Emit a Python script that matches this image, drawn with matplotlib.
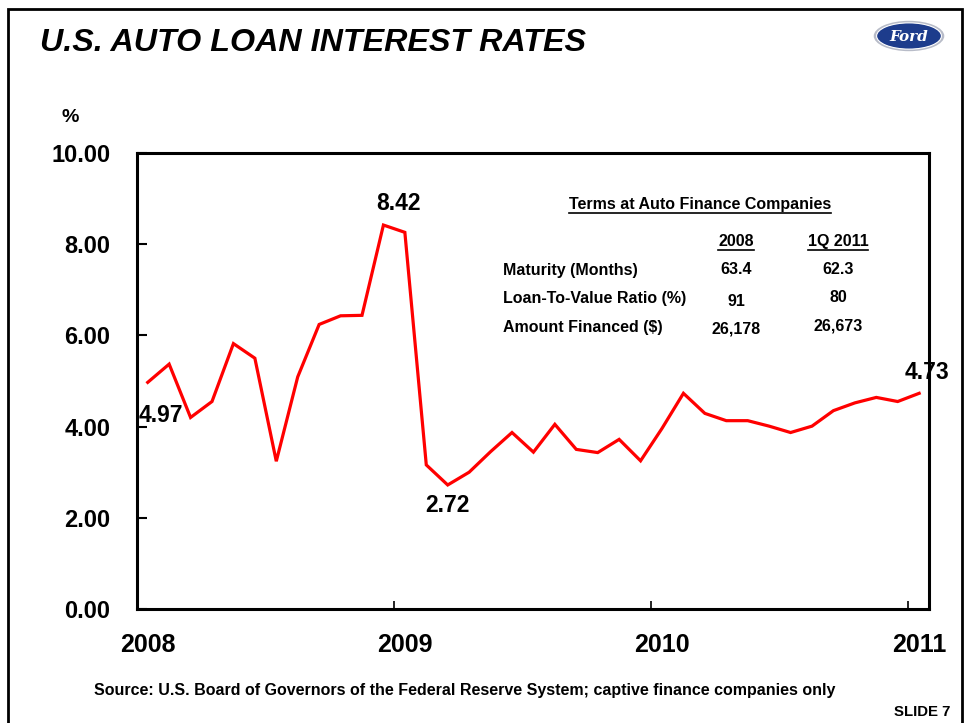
import matplotlib
matplotlib.use("Agg")
import matplotlib.pyplot as plt
from matplotlib.patches import Rectangle, Ellipse
from matplotlib.lines import Line2D
import pandas as pd

plt.rcParams['font.family'] = ['Liberation Sans', 'DejaVu Sans']

# ---------------- data ----------------
months = pd.period_range('2008-01', periods=37, freq='M')
rates = [4.97, 5.37, 4.20, 4.55, 5.82, 5.50, 3.24, 5.09, 6.24, 6.43, 6.44, 8.42,
         8.26, 3.16, 2.72, 3.00, 3.45, 3.87, 3.44, 4.05, 3.50, 3.43, 3.72, 3.25,
         3.96, 4.73, 4.29, 4.13, 4.13, 4.01, 3.87, 4.01, 4.35, 4.52, 4.64, 4.55,
         4.73]
year_ticks = [2008, 2009, 2010, 2011]
year_labels = ['2008', '2009', '2010', '2011']
y_ticks = [0, 2, 4, 6, 8, 10]
callouts = [('4.97', 0), ('8.42', 11), ('2.72', 14), ('4.73', 36)]

table_title = 'Terms at Auto Finance Companies'
table_cols = ['2008', '1Q 2011']
table_rows = ['Maturity (Months)', 'Loan-To-Value Ratio (%)', 'Amount Financed ($)']
table_2008 = ['63.4', '91', '26,178']
table_2011 = ['62.3', '80', '26,673']

# fractional-year position of each month (centre of month)
xpos = [m.year + (m.month - 0.5) / 12 for m in months]

W, H = 968, 723
fig = plt.figure(figsize=(W / 100, H / 100), dpi=100)
fig.patch.set_facecolor('white')

def fx(px):
    return px / W

def fy(py):
    return 1 - py / H

# slide border
fig.patches.append(Rectangle((fx(7.5), -0.1), fx(962) - fx(7.5), fy(9) + 0.1,
                             transform=fig.transFigure, fill=False,
                             edgecolor='black', linewidth=2.0, zorder=0))

# title
fig.text(fx(40), fy(43), 'U.S. AUTO LOAN INTEREST RATES', fontsize=23.2,
         fontweight='bold', fontstyle='italic', ha='left', va='center')

# Ford logo
lax = fig.add_axes([fx(873), fy(52), fx(72), 32 / H])
lax.set_xlim(0, 1); lax.set_ylim(0, 1); lax.axis('off')
lax.add_patch(Ellipse((0.5, 0.5), 0.98, 0.95, facecolor='#b8bcc8', edgecolor='none'))
lax.add_patch(Ellipse((0.5, 0.5), 0.90, 0.82, facecolor='#1d3c8c', edgecolor='white', linewidth=0.8))
lax.text(0.5, 0.48, 'Ford', color='white', fontsize=11, fontstyle='italic',
         fontweight='bold', family='DejaVu Serif', ha='center', va='center')

# main axes
ax = fig.add_axes([fx(137), fy(609), fx(929) - fx(137), (609 - 153) / H])
ax.plot(xpos, rates, color='#ff0000', linewidth=2.3, solid_joinstyle='miter', zorder=3)
ax.set_xlim(2008, 2011.08)
ax.set_ylim(0, 10)

for s in ax.spines.values():
    s.set_linewidth(2.2)

ax.set_yticks(y_ticks, labels=['%.2f' % v for v in y_ticks])
ax.tick_params(axis='y', direction='in', length=7, width=1.5, pad=19,
               labelsize=17)
ax.set_xticks(year_ticks, labels=[])
ax.set_xticks([y + 0.5 / 12 for y in year_ticks], labels=year_labels, minor=True)
ax.tick_params(axis='x', which='major', direction='in', length=6, width=1.2)
ax.tick_params(axis='x', which='minor', length=0, pad=17, labelsize=18)
for lbl in ax.get_yticklabels() + ax.get_xticklabels(minor=True):
    lbl.set_fontweight('bold')

# callouts
offsets = {'4.97': (0.04, -0.72, 'left'), '8.42': (0.06, 0.48, 'center'),
           '2.72': (-0.0, -0.44, 'center'), '4.73': (0.03, 0.45, 'center')}
for txt, i in callouts:
    dx, dy, ha = offsets[txt]
    x = xpos[i] + dx if ha == 'center' else 2008.005
    ax.text(x, rates[i] + dy, txt, fontsize=16.5, fontweight='bold',
            ha=ha, va='center', zorder=4)

# % label
fig.text(fx(70), fy(118), '%', fontsize=14, fontweight='bold', ha='center', va='center')

# table
underlined = []
t = fig.text(fx(700), fy(205), table_title, fontsize=11.5, fontweight='bold',
             ha='center', va='center')
underlined.append(t)
col_x = [736, 838]
for cx, c in zip(col_x, table_cols):
    t = fig.text(fx(cx), fy(242), c, fontsize=11.5, fontweight='bold',
                 ha='center', va='center')
    underlined.append(t)
row_y = [270, 299, 328]
v2008_y = [270, 301, 329]
v2011_y = [270, 297, 326]
for ry, lab in zip(row_y, table_rows):
    fig.text(fx(503), fy(ry), lab, fontsize=11.5, fontweight='bold',
             ha='left', va='center')
for vy, v in zip(v2008_y, table_2008):
    fig.text(fx(col_x[0]), fy(vy), v, fontsize=11.5, fontweight='bold',
             ha='center', va='center')
for vy, v in zip(v2011_y, table_2011):
    fig.text(fx(col_x[1]), fy(vy), v, fontsize=11.5, fontweight='bold',
             ha='center', va='center')

fig.canvas.draw()
r = fig.canvas.get_renderer()
for t in underlined:
    bb = t.get_window_extent(renderer=r)
    yline = bb.y0 - 0.5
    fig.add_artist(Line2D([bb.x0 / W, bb.x1 / W], [yline / H, yline / H],
                          transform=fig.transFigure, color='black', linewidth=1.2))

# source & slide number
fig.text(fx(465), fy(691),
         'Source: U.S. Board of Governors of the Federal Reserve System; captive finance companies only',
         fontsize=11.5, fontweight='bold', ha='center', va='center')
fig.text(fx(950), fy(712), 'SLIDE 7', fontsize=10.8, fontweight='bold',
         ha='right', va='center')

fig.savefig('out.png', dpi=100)
